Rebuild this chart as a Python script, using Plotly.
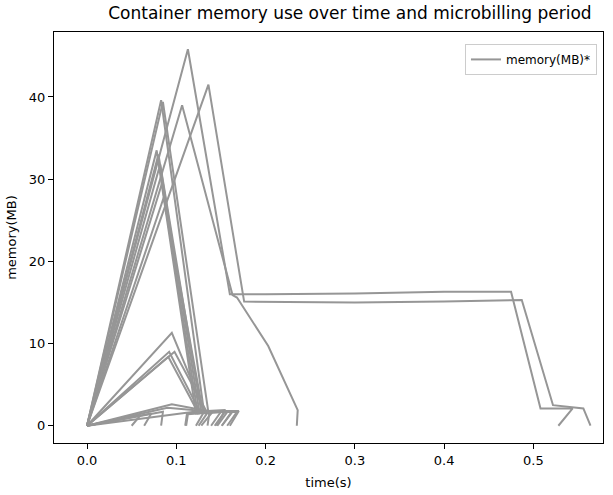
import plotly.graph_objects as go

# Each container: sampled time (s) and memory (MB)
times_tall = [
    [0, 0.083, 0.131, 0.158, 0.146],
    [0, 0.085, 0.136, 0.163, 0.151],
    [0, 0.078, 0.122, 0.150, 0.139],
    [0, 0.080, 0.126, 0.155, 0.143],
    [0, 0.082, 0.128, 0.140, 0.128],
    [0, 0.084, 0.124, 0.135, 0.125],
    [0, 0.086, 0.130, 0.168, 0.157],
]
memory_tall = [
    [0, 39.6, 1.7, 1.8, 0],
    [0, 39.4, 1.6, 1.7, 0],
    [0, 33.5, 1.5, 1.7, 0],
    [0, 33.0, 1.6, 1.8, 0],
    [0, 31.8, 1.7, 1.6, 0],
    [0, 29.5, 1.5, 1.6, 0],
    [0, 27.8, 1.6, 1.7, 0],
]
times_mid = [
    [0, 0.095, 0.132, 0.162, 0.151],
    [0, 0.092, 0.127, 0.112, 0.110],
    [0, 0.098, 0.134, 0.137, 0.135],
    [0, 0.091, 0.125, 0.113, 0.111],
]
memory_mid = [
    [0, 11.3, 1.6, 1.7, 0],
    [0, 9.0, 1.6, 1.5, 0],
    [0, 9.0, 1.7, 1.6, 0],
    [0, 8.4, 1.5, 1.4, 0],
]
times_low = [
    [0, 0.095, 0.135, 0.170, 0.160],
    [0, 0.090, 0.140, 0.130, 0.122],
    [0, 0.120, 0.155, 0.145],
    [0, 0.060, 0.050],
    [0, 0.072, 0.064],
    [0, 0.085, 0.083],
]
memory_low = [
    [0, 2.6, 1.8, 1.8, 0],
    [0, 2.2, 1.7, 1.5, 0],
    [0, 1.7, 1.9, 0],
    [0, 1.3, 0],
    [0, 1.5, 0],
    [0, 1.7, 0],
]
times_long = [
    [0, 0.1065, 0.163, 0.168, 0.203, 0.236, 0.235],
    [0, 0.113, 0.160, 0.20, 0.30, 0.40, 0.475, 0.508, 0.544, 0.528],
    [0, 0.136, 0.176, 0.25, 0.30, 0.40, 0.487, 0.522, 0.556, 0.564],
]
memory_long = [
    [0, 39.0, 15.9, 15.6, 9.7, 1.9, 0],
    [0, 45.8, 16.0, 16.0, 16.1, 16.3, 16.3, 2.1, 2.1, 0],
    [0, 41.5, 15.1, 15.0, 15.0, 15.1, 15.3, 2.5, 2.1, 0],
]

all_t = times_tall + times_mid + times_low + times_long
all_m = memory_tall + memory_mid + memory_low + memory_long

xs, ys = [], []
for t, m in zip(all_t, all_m):
    xs += t + [None]
    ys += m + [None]

fig = go.Figure()
fig.add_trace(go.Scatter(
    x=xs, y=ys, mode="lines", name="memory(MB)*",
    line=dict(color="#969696", width=2), connectgaps=False,
))

axis_common = dict(
    showline=True, mirror=True, linecolor="black", linewidth=1,
    ticks="outside", ticklen=5, tickwidth=1, tickcolor="black",
    showgrid=False, zeroline=False, automargin=False,
    tickfont=dict(family="DejaVu Sans", size=13, color="black"),
)

fig.update_layout(
    width=613, height=495,
    margin=dict(l=54, r=10, t=32, b=52),
    plot_bgcolor="white", paper_bgcolor="white",
    font=dict(family="DejaVu Sans", color="black"),
    title=dict(text="Container memory use over time and microbilling period",
               x=0.539, xref="paper", xanchor="center", y=0.974, yanchor="middle",
               font=dict(size=17, family="DejaVu Sans", color="black")),
    xaxis=dict(range=[-0.037, 0.578], tickvals=[0, 0.1, 0.2, 0.3, 0.4, 0.5],
               ticktext=["0.0", "0.1", "0.2", "0.3", "0.4", "0.5"],
               title=dict(text="time(s)", font=dict(size=13), standoff=11), **axis_common),
    yaxis=dict(range=[-2.1, 47.9], tickvals=[0, 10, 20, 30, 40],
               title=dict(text="memory(MB)", font=dict(size=13), standoff=9), **axis_common),
    showlegend=True,
    legend=dict(x=0.989, y=0.971, xanchor="right", yanchor="top",
                bgcolor="white", bordercolor="#cccccc", borderwidth=1,
                itemwidth=30, tracegroupgap=0,
                font=dict(size=12, family="DejaVu Sans")),
)

fig.write_html("out.html", config={"displayModeBar": False},
               post_script="document.body.style.margin='0';")
